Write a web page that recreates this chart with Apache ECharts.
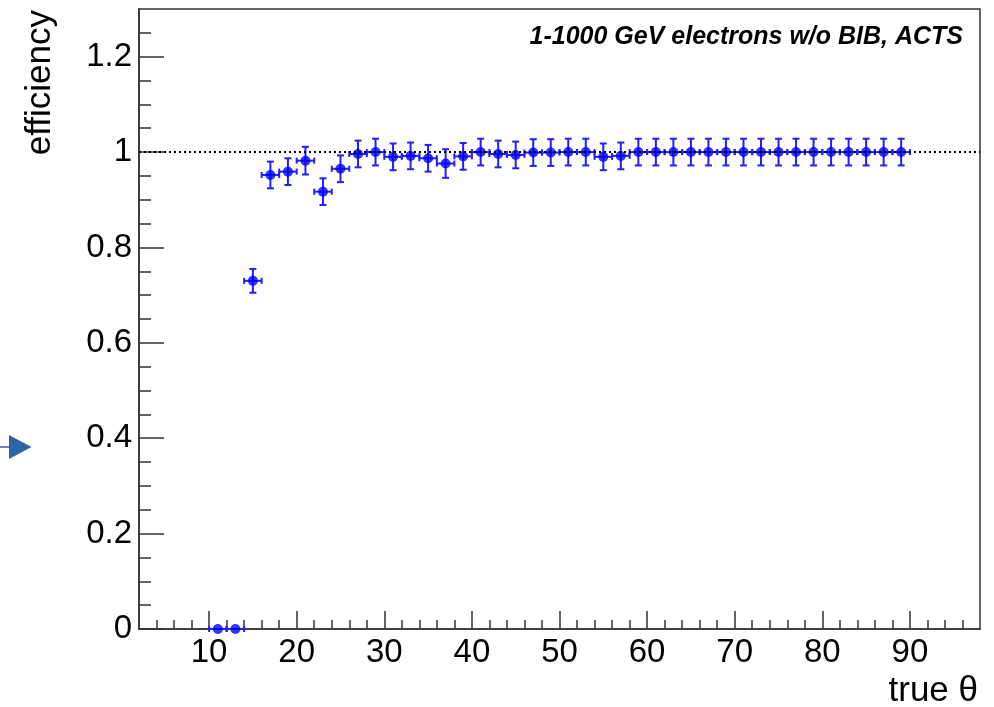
<!DOCTYPE html>
<html>
<head>
<meta charset="utf-8">
<script src="https://cdn.jsdelivr.net/npm/echarts@6/dist/echarts.min.js"></script>
<style>
html,body{margin:0;padding:0;background:#fff;}
#chart{width:994px;height:707px;}
</style>
</head>
<body>
<div id="chart"></div>
<script>
// ---- data ----
const thetaBins = [11,13,15,17,19,21,23,25,27,29,31,33,35,37,39,41,43,45,47,49,51,53,55,57,59,61,63,65,67,69,71,73,75,77,79,81,83,85,87,89];
const efficiency = [0,0,0.730,0.952,0.959,0.982,0.917,0.965,0.996,1.000,0.990,0.992,0.987,0.976,0.991,1.000,0.996,0.994,0.999,0.999,1.000,1.000,0.990,0.992,1.000,1.000,1.000,1.000,1.000,1.000,1.000,1.000,1.000,1.000,1.000,1.000,1.000,1.000,1.000,1.000];
const effError = [0,0,0.025,0.028,0.028,0.029,0.028,0.028,0.028,0.028,0.028,0.028,0.028,0.030,0.028,0.028,0.028,0.028,0.028,0.028,0.028,0.028,0.028,0.028,0.028,0.028,0.028,0.028,0.028,0.028,0.028,0.028,0.028,0.028,0.028,0.028,0.028,0.028,0.028,0.028];
const binHalfWidth = 1;
const referenceLevel = 1;

const xMajorTicks = [10,20,30,40,50,60,70,80,90];
const xMinorTicks = [4,6,8,12,14,16,18,22,24,26,28,32,34,36,38,42,44,46,48,52,54,56,58,62,64,66,68,72,74,76,78,82,84,86,88,92,94,96];
const yMajorTicks = [0,0.2,0.4,0.6,0.8,1,1.2];
const yMinorTicks = [0.05,0.1,0.15,0.25,0.3,0.35,0.45,0.5,0.55,0.65,0.7,0.75,0.85,0.9,0.95,1.05,1.1,1.15,1.25];

const xRange = [2, 98];
const yRange = [0, 1.3];

const annotation = '1-1000 GeV electrons w/o BIB, ACTS';
const xTitle = 'true \u03B8';
const yTitle = 'efficiency';

// ---- chart ----
const FONT = '"Liberation Sans", Arial, Helvetica, sans-serif';
const AX = '#333';
const BLUE = '#0000ff';

const points = thetaBins.map((t, i) => [t, efficiency[i], effError[i]]);

const chart = echarts.init(document.getElementById('chart'), null, {renderer: 'canvas'});

function renderErr(params, api) {
  const x = api.value(0), y = api.value(1), e = api.value(2);
  const l = api.coord([x - binHalfWidth, y]);
  const r = api.coord([x + binHalfWidth, y]);
  const st = {stroke: '#1f1fff', lineWidth: 2};
  const ch = [
    {type: 'line', shape: {x1: l[0], y1: l[1], x2: r[0], y2: r[1]}, style: st},
    {type: 'line', shape: {x1: l[0], y1: l[1] - 3, x2: l[0], y2: l[1] + 3}, style: st},
    {type: 'line', shape: {x1: r[0], y1: r[1] - 3, x2: r[0], y2: r[1] + 3}, style: st}
  ];
  if (e > 0) {
    const t = api.coord([x, y + e]);
    const b = api.coord([x, y - e]);
    ch.push({type: 'line', shape: {x1: t[0], y1: t[1], x2: b[0], y2: b[1]}, style: st});
    ch.push({type: 'line', shape: {x1: t[0] - 3.5, y1: t[1], x2: t[0] + 3.5, y2: t[1]}, style: st});
    ch.push({type: 'line', shape: {x1: b[0] - 3.5, y1: b[1], x2: b[0] + 3.5, y2: b[1]}, style: st});
  }
  return {type: 'group', children: ch};
}

const option = {
  animation: false,
  backgroundColor: '#fff',
  grid: {
    left: 139, right: 14, top: 9, bottom: 78,
    show: true, borderColor: AX, borderWidth: 1.5, backgroundColor: 'transparent',
    outerBoundsMode: 'none'
  },
  xAxis: [
    {
      type: 'value', min: xRange[0], max: xRange[1], position: 'bottom',
      axisLine: {show: true, onZero: false, lineStyle: {color: AX, width: 1.5}},
      axisTick: {show: true, inside: true, length: 18, customValues: xMajorTicks, lineStyle: {color: AX, width: 1.5}},
      axisLabel: {show: true, customValues: xMajorTicks, margin: 7, color: '#000', fontFamily: FONT, fontSize: 33},
      splitLine: {show: false}
    },
    {
      type: 'value', min: xRange[0], max: xRange[1], position: 'bottom',
      axisLine: {show: false, onZero: false},
      axisTick: {show: true, inside: true, length: 9, customValues: xMinorTicks, lineStyle: {color: AX, width: 1.5}},
      axisLabel: {show: false},
      splitLine: {show: false}
    }
  ],
  yAxis: [
    {
      type: 'value', min: yRange[0], max: yRange[1], position: 'left',
      axisLine: {show: true, onZero: false, lineStyle: {color: AX, width: 1.5}},
      axisTick: {show: true, inside: true, length: 25, customValues: yMajorTicks, lineStyle: {color: AX, width: 1.5}},
      axisLabel: {show: true, customValues: yMajorTicks, margin: 7, color: '#000', fontFamily: FONT, fontSize: 33,
        formatter: v => String(Math.round(v * 100) / 100)},
      splitLine: {show: false}
    },
    {
      type: 'value', min: yRange[0], max: yRange[1], position: 'left',
      axisLine: {show: false, onZero: false},
      axisTick: {show: true, inside: true, length: 12, customValues: yMinorTicks, lineStyle: {color: AX, width: 1.5}},
      axisLabel: {show: false},
      splitLine: {show: false}
    }
  ],
  series: [
    {
      type: 'custom', name: 'errors', xAxisIndex: 0, yAxisIndex: 0,
      renderItem: renderErr, data: points, z: 3, clip: false, silent: true,
      encode: {x: 0, y: 1}
    },
    {
      type: 'scatter', name: 'efficiency', xAxisIndex: 0, yAxisIndex: 0,
      data: points.map(p => [p[0], p[1]]), symbol: 'circle', symbolSize: 10,
      itemStyle: {color: BLUE}, z: 4, clip: false, silent: true
    },
    {
      type: 'line', name: 'reference', xAxisIndex: 0, yAxisIndex: 0, data: [], z: 5,
      markLine: {
        silent: true, symbol: ['none', 'none'], label: {show: false},
        lineStyle: {type: [2, 3], color: '#000', width: 2},
        data: [{yAxis: referenceLevel}]
      }
    }
  ],
  graphic: [
    {
      type: 'text', x: 963, y: 37, z: 10,
      style: {text: annotation, font: 'italic bold 25px ' + FONT, fill: '#000', align: 'right', verticalAlign: 'middle'}
    },
    {
      type: 'text', x: 978, y: 691, z: 10,
      style: {text: xTitle, font: '35px ' + FONT, fill: '#000', align: 'right', verticalAlign: 'middle'}
    },
    {
      type: 'text', x: 40, y: 10, rotation: Math.PI / 2, z: 10,
      style: {text: yTitle, font: '35px ' + FONT, fill: '#000', align: 'right', verticalAlign: 'middle'}
    },
    {
      type: 'line', z: 10, shape: {x1: 0, y1: 447, x2: 12, y2: 447},
      style: {stroke: '#2f63a8', lineWidth: 1.5}
    },
    {
      type: 'polygon', z: 10, shape: {points: [[9, 435], [31.5, 447], [9, 459]]},
      style: {fill: '#2f63a8'}
    }
  ]
};

chart.setOption(option);
</script>
</body>
</html>
